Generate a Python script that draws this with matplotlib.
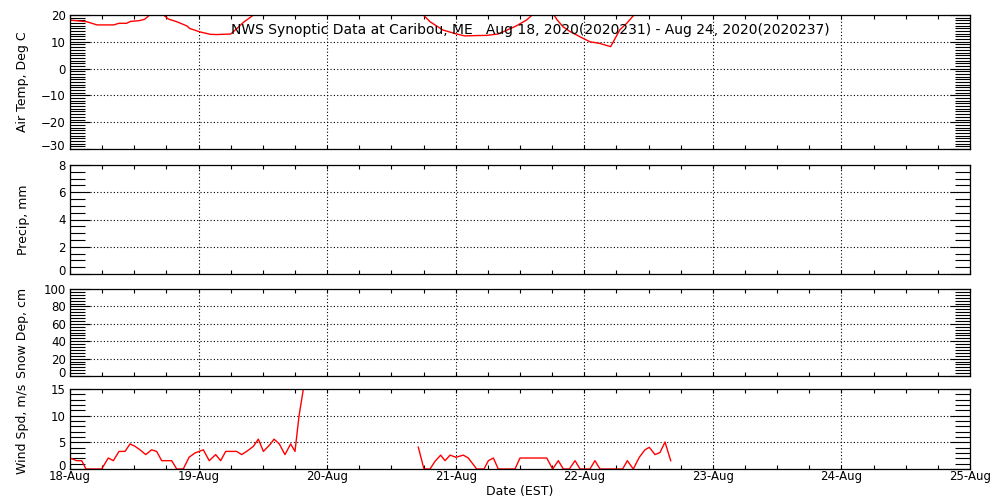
import numpy as np
import matplotlib
matplotlib.use('Agg')
import matplotlib.pyplot as plt
import matplotlib.transforms as mtransforms
from matplotlib.ticker import MultipleLocator, FixedLocator

# days since 18-Aug 00:00 EST
temp_day = [0.0, 0.13, 0.21, 0.34, 0.38, 0.44, 0.47, 0.54, 0.58, 0.625, 0.67, 0.72,
            0.765, 0.83, 0.86, 0.91, 0.93, 1.01, 1.09, 1.14, 1.25, 1.29, 1.35, 1.43,
            1.55, 1.75, 2.0, 2.3, 2.55, 2.74, 2.80, 2.90, 3.00, 3.07, 3.14, 3.24, 3.33,
            3.40, 3.47, 3.55, 3.60, 3.68, 3.76, 3.79, 3.835, 3.89, 3.99, 4.045, 4.12,
            4.205, 4.277, 4.33, 4.39, 4.5, 4.6, 4.7]
temp_val = [18.1, 17.5, 16.3, 16.3, 16.9, 16.9, 17.6, 17.9, 18.4, 20.2, 21.0, 20.3,
            18.5, 17.5, 16.9, 15.9, 15.0, 13.7, 12.8, 12.7, 12.9, 14.6, 17.3, 20.1,
            23.0, 25.0, 22.0, 23.0, 24.0, 20.4, 17.5, 14.4, 13.0, 12.2, 12.3, 12.4, 12.9,
            14.4, 15.9, 18.1, 20.2, 21.0, 20.3, 18.1, 15.6, 13.8, 11.3, 10.0, 9.4,
            8.2, 14.5, 16.9, 20.2, 23.0, 25.0, 24.0]

wind_day = [0.0, 0.052, 0.091, 0.124, 0.246, 0.298, 0.337, 0.381, 0.428, 0.467,
            0.506, 0.544, 0.589, 0.635, 0.674, 0.713, 0.791, 0.830, 0.881, 0.926,
            0.972, 1.037, 1.083, 1.133, 1.172, 1.211, 1.296, 1.335, 1.38, 1.426,
            1.465, 1.504, 1.556, 1.587, 1.628, 1.672, 1.716, 1.750, 1.781, 1.823,
            1.86,
            2.709, 2.753, 2.80, 2.839, 2.883, 2.917, 2.956, 3.002, 3.059, 3.098,
            3.163, 3.22, 3.254, 3.293, 3.331, 3.461, 3.50, 3.708, 3.754, 3.798,
            3.837, 3.884, 3.928, 3.967, 4.044, 4.083, 4.122, 4.298, 4.335, 4.381,
            4.428, 4.472, 4.506, 4.55, 4.589, 4.628, 4.672]
wind_val = [2.06, 1.56, 1.56, 0, 0, 2.06, 1.56, 3.3, 3.3, 4.7,
            4.25, 3.6, 2.7, 3.6, 3.3, 1.56, 1.56, 0, 0, 2.2,
            3.0, 3.6, 1.56, 2.7, 1.56, 3.3, 3.3, 2.7, 3.4, 4.25,
            5.6, 3.3, 4.6, 5.6, 4.7, 2.7, 4.7, 3.3, 9.9, 16.2,
            np.nan,
            4.1, 0, 0, 1.44, 2.6, 1.56, 2.6, 2.2, 2.6, 2.06,
            0, 0, 1.56, 2.06, 0, 0, 2.06, 2.06, 0, 1.56,
            0, 0, 1.56, 0, 0, 1.56, 0, 0, 1.56, 0,
            2.2, 3.6, 4.06, 2.7, 3.1, 5.06, 1.56]

day_labels = ['18-Aug', '19-Aug', '20-Aug', '21-Aug', '22-Aug', '23-Aug', '24-Aug', '25-Aug']
title = 'NWS Synoptic Data at Caribou, ME   Aug 18, 2020(2020231) - Aug 24, 2020(2020237)'

panels = [
    # label, ylim, major, minor, rect
    ('Air Temp, Deg C', (-30, 20), 10, 1, [0.07, 0.702, 0.90, 0.268]),
    ('Precip, mm', (0, 8), 2, 0.5, [0.07, 0.452, 0.90, 0.218]),
    ('Snow Dep, cm', (0, 100), 20, 20 / 6, [0.07, 0.248, 0.90, 0.174]),
    ('Wind Spd, m/s', (0, 15), 5, 1, [0.07, 0.062, 0.90, 0.160]),
]

fig = plt.figure(figsize=(10, 5), dpi=100)
axes = []
for label, ylim, major, minor, rect in panels:
    ax = fig.add_axes(rect)
    ax.set_xlim(0, 7)
    ax.set_ylim(*ylim)
    ax.yaxis.set_major_locator(MultipleLocator(major))
    ax.yaxis.set_minor_locator(MultipleLocator(minor))
    ax.xaxis.set_major_locator(FixedLocator(range(8)))
    ax.xaxis.set_minor_locator(MultipleLocator(0.25))
    ax.tick_params(axis='y', which='both', direction='in', left=True, right=True,
                   labelsize=8.5, pad=3)
    ax.tick_params(axis='y', which='major', length=14.4, width=0.8)
    ax.tick_params(axis='y', which='minor', length=10.8, width=0.8)
    ax.tick_params(axis='x', which='both', direction='in', top=True, bottom=True,
                   length=3, width=0.8, labelsize=8.5, pad=1)
    ax.grid(True, which='major', color='black', linestyle=(0, (1, 2)), linewidth=0.8)
    for s in ax.spines.values():
        s.set_linewidth(0.9)
    ax.set_ylabel(label, fontsize=9)
    ax.yaxis.set_label_coords(-0.045, 0.5)
    ax.set_xticklabels([])
    axes.append(ax)

axes[0].plot(temp_day, temp_val, color='red', linewidth=1)
axes[3].plot(wind_day, wind_val, color='red', linewidth=1)
axes[3].set_xticklabels(day_labels)
axes[3].set_xlabel('Date (EST)', fontsize=9, labelpad=1)

fig.text(0.53, 0.94, title, fontsize=10, ha='center', va='center')

# bottom y label of each panel sits a few pixels above its tick
fig.canvas.draw()
lift = mtransforms.ScaledTranslation(0, 0.04, fig.dpi_scale_trans)
for ax in axes:
    y0 = ax.get_ylim()[0]
    for tick in ax.yaxis.get_major_ticks():
        if abs(tick.get_loc() - y0) < 1e-6:
            lab = tick.label1
            lab.set_transform(lab.get_transform() + lift)

fig.savefig('out.png', dpi=100)
